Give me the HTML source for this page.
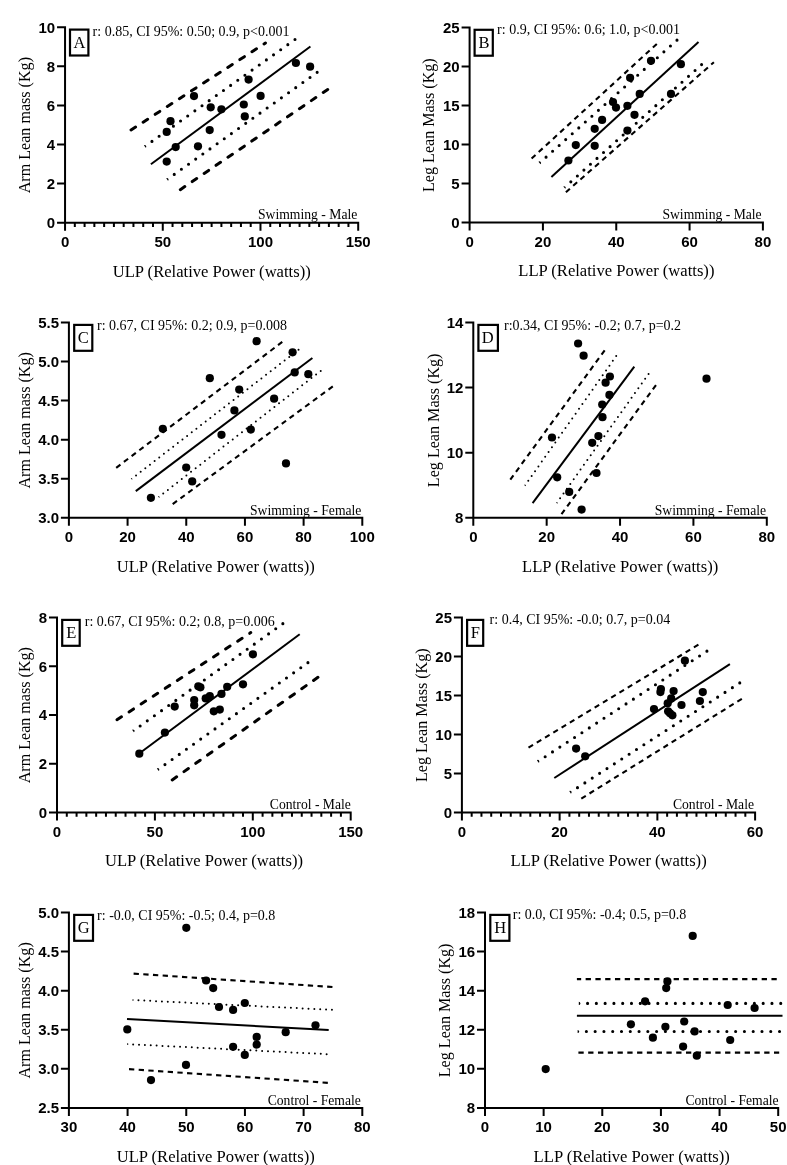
<!DOCTYPE html>
<html><head><meta charset="utf-8"><title>Figure</title>
<style>
html,body{margin:0;padding:0;background:#fff;}
body{width:787px;height:1165px;overflow:hidden;}
svg{display:block;will-change:transform;}
text{fill:#000;}
.ax{stroke:#000;stroke-width:2.0;fill:none;}
.bx{stroke:#000;stroke-width:2.2;fill:#fff;}
.tk{font-family:"Liberation Sans",sans-serif;font-weight:bold;font-size:15px;}
.lt{font-family:"Liberation Serif",serif;font-size:16.5px;}
.rt{font-family:"Liberation Serif",serif;font-size:14px;}
.gp{font-family:"Liberation Serif",serif;font-size:13.65px;}
.xl{font-family:"Liberation Serif",serif;font-size:16.6px;}
.yl{font-family:"Liberation Serif",serif;font-size:16.1px;}
</style></head>
<body>
<svg width="787" height="1165" viewBox="0 0 787 1165">
<rect width="787" height="1165" fill="#fff"/>
<g id="pA">
<path class="ax" d="M65.05 26.2V230.7M57.05 222.7H359.2M57.05 183.6H65.05M57.05 144.5H65.05M57.05 105.4H65.05M57.05 66.3H65.05M57.05 27.2H65.05M74.82 222.7V227M84.59 222.7V227M94.36 222.7V227M104.14 222.7V227M113.91 222.7V227M123.68 222.7V227M133.45 222.7V227M143.22 222.7V227M152.99 222.7V227M162.77 222.7V230.7M172.54 222.7V227M182.31 222.7V227M192.08 222.7V227M201.85 222.7V227M211.62 222.7V227M221.4 222.7V227M231.17 222.7V227M240.94 222.7V227M250.71 222.7V227M260.48 222.7V230.7M270.25 222.7V227M280.03 222.7V227M289.8 222.7V227M299.57 222.7V227M309.34 222.7V227M319.11 222.7V227M328.88 222.7V227M338.66 222.7V227M348.43 222.7V227M358.2 222.7V230.7"/>
<text class="tk" text-anchor="end" x="55.15" y="228.1">0</text>
<text class="tk" text-anchor="end" x="55.15" y="189">2</text>
<text class="tk" text-anchor="end" x="55.15" y="149.9">4</text>
<text class="tk" text-anchor="end" x="55.15" y="110.8">6</text>
<text class="tk" text-anchor="end" x="55.15" y="71.7">8</text>
<text class="tk" text-anchor="end" x="55.15" y="32.6">10</text>
<text class="tk" text-anchor="middle" x="65.05" y="247.25">0</text>
<text class="tk" text-anchor="middle" x="162.77" y="247.25">50</text>
<text class="tk" text-anchor="middle" x="260.48" y="247.25">100</text>
<text class="tk" text-anchor="middle" x="358.2" y="247.25">150</text>
<rect class="bx" x="70" y="29.6" width="18.4" height="25.9"/>
<text class="lt" text-anchor="middle" x="79.4" y="48.1">A</text>
<text class="rt" x="92.6" y="35.7">r: 0.85, CI 95%: 0.50; 0.9, p&lt;0.001</text>
<text class="gp" text-anchor="end" x="357.3" y="219.4">Swimming - Male</text>
<text class="xl" text-anchor="middle" x="211.72" y="276.6">ULP (Relative Power (watts))</text>
<text class="yl" text-anchor="middle" transform="translate(29.8 125.15) rotate(-90)">Arm Lean mass (Kg)</text>
<path d="M150.9 164.3L310.4 46.5" stroke="#000" stroke-width="2.0" fill="none"/>
<path d="M131.04 129.96L265.5 43" stroke="#000" stroke-width="3.0" stroke-dasharray="5.4 9.0" stroke-linecap="round" fill="none"/>
<path d="M180.33 189.64L328.6 88.9" stroke="#000" stroke-width="3.0" stroke-dasharray="5.4 9.0" stroke-linecap="round" fill="none"/>
<path d="M151.95 141.41L295.03 39.52" stroke="#000" stroke-width="3.1" stroke-dasharray="0 8.78" stroke-linecap="round" fill="none"/>
<path d="M145.7 147.76A1.55 1.55 0 0 0 143.9 145.24Z" fill="#000"/>
<path d="M174.25 174.4L317.19 72.32" stroke="#000" stroke-width="3.1" stroke-dasharray="0 8.78" stroke-linecap="round" fill="none"/>
<path d="M168 180.76A1.55 1.55 0 0 0 166.2 178.24Z" fill="#000"/>
<circle cx="166.7" cy="161.6" r="4.1"/><circle cx="175.7" cy="147.1" r="4.1"/><circle cx="166.7" cy="131.9" r="4.1"/><circle cx="170.5" cy="121.2" r="4.1"/><circle cx="198" cy="146.3" r="4.1"/><circle cx="209.7" cy="130.1" r="4.1"/><circle cx="194" cy="96.1" r="4.1"/><circle cx="210.7" cy="107.3" r="4.1"/><circle cx="221.4" cy="109.3" r="4.1"/><circle cx="243.8" cy="104.5" r="4.1"/><circle cx="244.8" cy="116.4" r="4.1"/><circle cx="248.6" cy="79.6" r="4.1"/><circle cx="260.6" cy="95.9" r="4.1"/><circle cx="295.9" cy="63" r="4.1"/><circle cx="310.1" cy="66.7" r="4.1"/>
</g>
<g id="pB">
<path class="ax" d="M469.6 26.4V230.5M461.6 222.5H763.9M461.6 183.48H469.6M461.6 144.46H469.6M461.6 105.44H469.6M461.6 66.42H469.6M461.6 27.4H469.6M542.92 222.5V230.5M616.25 222.5V230.5M689.58 222.5V230.5M762.9 222.5V230.5"/>
<text class="tk" text-anchor="end" x="459.7" y="227.9">0</text>
<text class="tk" text-anchor="end" x="459.7" y="188.88">5</text>
<text class="tk" text-anchor="end" x="459.7" y="149.86">10</text>
<text class="tk" text-anchor="end" x="459.7" y="110.84">15</text>
<text class="tk" text-anchor="end" x="459.7" y="71.82">20</text>
<text class="tk" text-anchor="end" x="459.7" y="32.8">25</text>
<text class="tk" text-anchor="middle" x="469.6" y="247.05">0</text>
<text class="tk" text-anchor="middle" x="542.92" y="247.05">20</text>
<text class="tk" text-anchor="middle" x="616.25" y="247.05">40</text>
<text class="tk" text-anchor="middle" x="689.58" y="247.05">60</text>
<text class="tk" text-anchor="middle" x="762.9" y="247.05">80</text>
<rect class="bx" x="474.6" y="29.8" width="18.2" height="25.9"/>
<text class="lt" text-anchor="middle" x="484" y="48.3">B</text>
<text class="rt" x="497.1" y="34.1">r: 0.9, CI 95%: 0.6; 1.0, p&lt;0.001</text>
<text class="gp" text-anchor="end" x="761.7" y="219.2">Swimming - Male</text>
<text class="xl" text-anchor="middle" x="616.35" y="276.4">LLP (Relative Power (watts))</text>
<text class="yl" text-anchor="middle" transform="translate(434.2 125.15) rotate(-90)">Leg Lean Mass (Kg)</text>
<path d="M551.4 177L698.5 42.1" stroke="#000" stroke-width="2.0" fill="none"/>
<path d="M531.6 158.5L657.3 43.5" stroke="#000" stroke-width="2.1" stroke-dasharray="5.3 4.37" fill="none"/>
<path d="M565.9 192.2L713.9 62.2" stroke="#000" stroke-width="2.1" stroke-dasharray="5.3 4.37" fill="none"/>
<path d="M546.05 157.15L677.02 40.11" stroke="#000" stroke-width="3.1" stroke-dasharray="0 8.78" stroke-linecap="round" fill="none"/>
<path d="M540.53 164.16A1.55 1.55 0 0 0 538.47 161.84Z" fill="#000"/>
<path d="M570.84 181.84L701.62 64.59" stroke="#000" stroke-width="3.1" stroke-dasharray="0 8.78" stroke-linecap="round" fill="none"/>
<path d="M565.33 188.85A1.55 1.55 0 0 0 563.27 186.55Z" fill="#000"/>
<circle cx="568.4" cy="160.5" r="4.1"/><circle cx="575.8" cy="145.1" r="4.1"/><circle cx="594.7" cy="145.8" r="4.1"/><circle cx="594.7" cy="128.8" r="4.1"/><circle cx="602.1" cy="119.9" r="4.1"/><circle cx="613" cy="102" r="4.1"/><circle cx="616" cy="107.6" r="4.1"/><circle cx="627.4" cy="105.8" r="4.1"/><circle cx="630.1" cy="77.8" r="4.1"/><circle cx="627.4" cy="130.6" r="4.1"/><circle cx="634.5" cy="114.8" r="4.1"/><circle cx="639.7" cy="93.9" r="4.1"/><circle cx="651" cy="60.8" r="4.1"/><circle cx="671" cy="93.9" r="4.1"/><circle cx="680.9" cy="64.2" r="4.1"/>
</g>
<g id="pC">
<path class="ax" d="M68.9 321.5V525.8M60.9 517.8H363.3M60.9 478.74H68.9M60.9 439.68H68.9M60.9 400.62H68.9M60.9 361.56H68.9M60.9 322.5H68.9M127.58 517.8V525.8M186.26 517.8V525.8M244.94 517.8V525.8M303.62 517.8V525.8M362.3 517.8V525.8"/>
<text class="tk" text-anchor="end" x="59" y="523.2">3.0</text>
<text class="tk" text-anchor="end" x="59" y="484.14">3.5</text>
<text class="tk" text-anchor="end" x="59" y="445.08">4.0</text>
<text class="tk" text-anchor="end" x="59" y="406.02">4.5</text>
<text class="tk" text-anchor="end" x="59" y="366.96">5.0</text>
<text class="tk" text-anchor="end" x="59" y="327.9">5.5</text>
<text class="tk" text-anchor="middle" x="68.9" y="542.35">0</text>
<text class="tk" text-anchor="middle" x="127.58" y="542.35">20</text>
<text class="tk" text-anchor="middle" x="186.26" y="542.35">40</text>
<text class="tk" text-anchor="middle" x="244.94" y="542.35">60</text>
<text class="tk" text-anchor="middle" x="303.62" y="542.35">80</text>
<text class="tk" text-anchor="middle" x="362.3" y="542.35">100</text>
<rect class="bx" x="74.2" y="324.9" width="18.1" height="25.9"/>
<text class="lt" text-anchor="middle" x="83.3" y="343.4">C</text>
<text class="rt" x="97.05" y="329.8">r: 0.67, CI 95%: 0.2; 0.9, p=0.008</text>
<text class="gp" text-anchor="end" x="361.4" y="514.5">Swimming - Female</text>
<text class="xl" text-anchor="middle" x="215.7" y="571.7">ULP (Relative Power (watts))</text>
<text class="yl" text-anchor="middle" transform="translate(29.8 420.35) rotate(-90)">Arm Lean mass (Kg)</text>
<path d="M135.8 491.1L312.4 358" stroke="#000" stroke-width="2.0" fill="none"/>
<path d="M116.2 467.8L284.8 340" stroke="#000" stroke-width="2.1" stroke-dasharray="5.3 4.37" fill="none"/>
<path d="M172.7 504.1L333.6 385.8" stroke="#000" stroke-width="2.1" stroke-dasharray="5.3 4.37" fill="none"/>
<path d="M136.04 475.41L298.58 349.66" stroke="#000" stroke-width="2.0" stroke-dasharray="0 5.87" stroke-linecap="round" fill="none"/>
<path d="M132.01 479.79A1.0 1.0 0 0 0 130.79 478.21Z" fill="#000"/>
<path d="M163.23 493.49L320.76 370.87" stroke="#000" stroke-width="2.0" stroke-dasharray="0 5.87" stroke-linecap="round" fill="none"/>
<path d="M159.21 497.89A1.0 1.0 0 0 0 157.99 496.31Z" fill="#000"/>
<circle cx="150.9" cy="497.8" r="4.1"/><circle cx="162.8" cy="428.8" r="4.1"/><circle cx="186.2" cy="467.5" r="4.1"/><circle cx="192.2" cy="481.4" r="4.1"/><circle cx="209.8" cy="378.2" r="4.1"/><circle cx="221.5" cy="434.8" r="4.1"/><circle cx="234.4" cy="410.4" r="4.1"/><circle cx="239.2" cy="389.6" r="4.1"/><circle cx="250.8" cy="429.6" r="4.1"/><circle cx="256.6" cy="341.2" r="4.1"/><circle cx="274.1" cy="398.7" r="4.1"/><circle cx="286" cy="463.4" r="4.1"/><circle cx="292.6" cy="352.3" r="4.1"/><circle cx="294.7" cy="372.4" r="4.1"/><circle cx="308.3" cy="374.2" r="4.1"/>
</g>
<g id="pD">
<path class="ax" d="M473.3 321.5V525.8M465.3 517.8H767.8M465.3 452.7H473.3M465.3 387.6H473.3M465.3 322.5H473.3M546.67 517.8V525.8M620.05 517.8V525.8M693.42 517.8V525.8M766.8 517.8V525.8"/>
<text class="tk" text-anchor="end" x="463.4" y="523.2">8</text>
<text class="tk" text-anchor="end" x="463.4" y="458.1">10</text>
<text class="tk" text-anchor="end" x="463.4" y="393">12</text>
<text class="tk" text-anchor="end" x="463.4" y="327.9">14</text>
<text class="tk" text-anchor="middle" x="473.3" y="542.35">0</text>
<text class="tk" text-anchor="middle" x="546.67" y="542.35">20</text>
<text class="tk" text-anchor="middle" x="620.05" y="542.35">40</text>
<text class="tk" text-anchor="middle" x="693.42" y="542.35">60</text>
<text class="tk" text-anchor="middle" x="766.8" y="542.35">80</text>
<rect class="bx" x="478.4" y="324.9" width="19.5" height="25.9"/>
<text class="lt" text-anchor="middle" x="487.8" y="343.4">D</text>
<text class="rt" x="504" y="330.4">r:0.34, CI 95%: -0.2; 0.7, p=0.2</text>
<text class="gp" text-anchor="end" x="766.1" y="514.5">Swimming - Female</text>
<text class="xl" text-anchor="middle" x="620.15" y="571.7">LLP (Relative Power (watts))</text>
<text class="yl" text-anchor="middle" transform="translate(438.5 420.35) rotate(-90)">Leg Lean Mass (Kg)</text>
<path d="M532.6 503.1L634.3 366.7" stroke="#000" stroke-width="2.0" fill="none"/>
<path d="M510.3 479.6L605.6 349.1" stroke="#000" stroke-width="2.1" stroke-dasharray="5.3 4.37" fill="none"/>
<path d="M561.5 514.2L656.3 384.6" stroke="#000" stroke-width="2.1" stroke-dasharray="5.3 4.37" fill="none"/>
<path d="M528.28 480.8L616.23 356.01" stroke="#000" stroke-width="2.0" stroke-dasharray="0 5.87" stroke-linecap="round" fill="none"/>
<path d="M525.72 486.18A1.0 1.0 0 0 0 524.08 485.02Z" fill="#000"/>
<path d="M560.1 498.32L648.59 373.91" stroke="#000" stroke-width="2.0" stroke-dasharray="0 5.87" stroke-linecap="round" fill="none"/>
<path d="M557.51 503.68A1.0 1.0 0 0 0 555.89 502.52Z" fill="#000"/>
<circle cx="578.1" cy="343.5" r="4.1"/><circle cx="583.6" cy="355.7" r="4.1"/><circle cx="609.9" cy="376.5" r="4.1"/><circle cx="605.6" cy="382.7" r="4.1"/><circle cx="609.4" cy="394.9" r="4.1"/><circle cx="602.2" cy="404.5" r="4.1"/><circle cx="602.5" cy="417.2" r="4.1"/><circle cx="598.4" cy="436.1" r="4.1"/><circle cx="592.2" cy="442.8" r="4.1"/><circle cx="552" cy="437.5" r="4.1"/><circle cx="596.5" cy="473" r="4.1"/><circle cx="557.2" cy="477.3" r="4.1"/><circle cx="569.2" cy="491.9" r="4.1"/><circle cx="581.6" cy="509.6" r="4.1"/><circle cx="706.5" cy="378.7" r="4.1"/>
</g>
<g id="pE">
<path class="ax" d="M57 616.5V820.5M49 812.5H351.7M49 763.75H57M49 715H57M49 666.25H57M49 617.5H57M66.79 812.5V816.8M76.58 812.5V816.8M86.37 812.5V816.8M96.16 812.5V816.8M105.95 812.5V816.8M115.74 812.5V816.8M125.53 812.5V816.8M135.32 812.5V816.8M145.11 812.5V816.8M154.9 812.5V820.5M164.69 812.5V816.8M174.48 812.5V816.8M184.27 812.5V816.8M194.06 812.5V816.8M203.85 812.5V816.8M213.64 812.5V816.8M223.43 812.5V816.8M233.22 812.5V816.8M243.01 812.5V816.8M252.8 812.5V820.5M262.59 812.5V816.8M272.38 812.5V816.8M282.17 812.5V816.8M291.96 812.5V816.8M301.75 812.5V816.8M311.54 812.5V816.8M321.33 812.5V816.8M331.12 812.5V816.8M340.91 812.5V816.8M350.7 812.5V820.5"/>
<text class="tk" text-anchor="end" x="47.1" y="817.9">0</text>
<text class="tk" text-anchor="end" x="47.1" y="769.15">2</text>
<text class="tk" text-anchor="end" x="47.1" y="720.4">4</text>
<text class="tk" text-anchor="end" x="47.1" y="671.65">6</text>
<text class="tk" text-anchor="end" x="47.1" y="622.9">8</text>
<text class="tk" text-anchor="middle" x="57" y="837.05">0</text>
<text class="tk" text-anchor="middle" x="154.9" y="837.05">50</text>
<text class="tk" text-anchor="middle" x="252.8" y="837.05">100</text>
<text class="tk" text-anchor="middle" x="350.7" y="837.05">150</text>
<rect class="bx" x="62.2" y="619.9" width="17.5" height="25.9"/>
<text class="lt" text-anchor="middle" x="71.3" y="638.4">E</text>
<text class="rt" x="84.8" y="625.5">r: 0.67, CI 95%: 0.2; 0.8, p=0.006</text>
<text class="gp" text-anchor="end" x="350.9" y="809.2">Control - Male</text>
<text class="xl" text-anchor="middle" x="203.95" y="866.4">ULP (Relative Power (watts))</text>
<text class="yl" text-anchor="middle" transform="translate(29.8 715.2) rotate(-90)">Arm Lean mass (Kg)</text>
<path d="M137.2 755L299.7 634.3" stroke="#000" stroke-width="2.0" fill="none"/>
<path d="M116.04 720.35L250.8 632.6" stroke="#000" stroke-width="3.0" stroke-dasharray="5.4 9.0" stroke-dashoffset="-1.1" stroke-linecap="round" fill="none"/>
<path d="M172.22 779.92L319 676.6" stroke="#000" stroke-width="3.0" stroke-dasharray="5.4 9.0" stroke-linecap="round" fill="none"/>
<path d="M140.14 725.98L282.89 623.64" stroke="#000" stroke-width="3.1" stroke-dasharray="0 8.78" stroke-linecap="round" fill="none"/>
<path d="M133.9 732.36A1.55 1.55 0 0 0 132.1 729.84Z" fill="#000"/>
<path d="M164.95 764.6L307.97 662.63" stroke="#000" stroke-width="3.1" stroke-dasharray="0 8.78" stroke-linecap="round" fill="none"/>
<path d="M158.7 770.96A1.55 1.55 0 0 0 156.9 768.44Z" fill="#000"/>
<circle cx="139.3" cy="753.7" r="4.1"/><circle cx="164.9" cy="732.6" r="4.1"/><circle cx="174.7" cy="706.6" r="4.1"/><circle cx="194.2" cy="700" r="4.1"/><circle cx="194.2" cy="705.3" r="4.1"/><circle cx="198.3" cy="686.3" r="4.1"/><circle cx="200.4" cy="687.3" r="4.1"/><circle cx="205.7" cy="698.4" r="4.1"/><circle cx="209.8" cy="696.2" r="4.1"/><circle cx="213.8" cy="711.3" r="4.1"/><circle cx="219.8" cy="709.6" r="4.1"/><circle cx="221.5" cy="693.9" r="4.1"/><circle cx="227.2" cy="686.8" r="4.1"/><circle cx="243" cy="684.3" r="4.1"/><circle cx="252.9" cy="654.3" r="4.1"/>
</g>
<g id="pF">
<path class="ax" d="M461.9 616.5V820.5M453.9 812.5H756.1M453.9 773.5H461.9M453.9 734.5H461.9M453.9 695.5H461.9M453.9 656.5H461.9M453.9 617.5H461.9M471.67 812.5V816.8M481.45 812.5V816.8M491.22 812.5V816.8M500.99 812.5V816.8M510.77 812.5V816.8M520.54 812.5V816.8M530.31 812.5V816.8M540.09 812.5V816.8M549.86 812.5V816.8M559.63 812.5V820.5M569.41 812.5V816.8M579.18 812.5V816.8M588.95 812.5V816.8M598.73 812.5V816.8M608.5 812.5V816.8M618.27 812.5V816.8M628.05 812.5V816.8M637.82 812.5V816.8M647.59 812.5V816.8M657.37 812.5V820.5M667.14 812.5V816.8M676.91 812.5V816.8M686.69 812.5V816.8M696.46 812.5V816.8M706.23 812.5V816.8M716.01 812.5V816.8M725.78 812.5V816.8M735.55 812.5V816.8M745.33 812.5V816.8M755.1 812.5V820.5"/>
<text class="tk" text-anchor="end" x="452" y="817.9">0</text>
<text class="tk" text-anchor="end" x="452" y="778.9">5</text>
<text class="tk" text-anchor="end" x="452" y="739.9">10</text>
<text class="tk" text-anchor="end" x="452" y="700.9">15</text>
<text class="tk" text-anchor="end" x="452" y="661.9">20</text>
<text class="tk" text-anchor="end" x="452" y="622.9">25</text>
<text class="tk" text-anchor="middle" x="461.9" y="837.05">0</text>
<text class="tk" text-anchor="middle" x="559.63" y="837.05">20</text>
<text class="tk" text-anchor="middle" x="657.37" y="837.05">40</text>
<text class="tk" text-anchor="middle" x="755.1" y="837.05">60</text>
<rect class="bx" x="467.1" y="619.9" width="16.1" height="25.9"/>
<text class="lt" text-anchor="middle" x="475.4" y="638.4">F</text>
<text class="rt" x="489.6" y="623.9">r: 0.4, CI 95%: -0.0; 0.7, p=0.04</text>
<text class="gp" text-anchor="end" x="754" y="809.2">Control - Male</text>
<text class="xl" text-anchor="middle" x="608.6" y="866.4">LLP (Relative Power (watts))</text>
<text class="yl" text-anchor="middle" transform="translate(426.6 715.2) rotate(-90)">Leg Lean Mass (Kg)</text>
<path d="M554.3 778L729.9 664.1" stroke="#000" stroke-width="2.0" fill="none"/>
<path d="M528.5 747.7L701 643.15" stroke="#000" stroke-width="2.1" stroke-dasharray="5.3 4.37" fill="none"/>
<path d="M581.3 798.6L744.2 697.35" stroke="#000" stroke-width="2.1" stroke-dasharray="5.3 4.37" fill="none"/>
<path d="M545.15 756.7L706.96 651.12" stroke="#000" stroke-width="3.1" stroke-dasharray="0 8.78" stroke-linecap="round" fill="none"/>
<path d="M538.65 762.8A1.55 1.55 0 0 0 536.95 760.2Z" fill="#000"/>
<path d="M577.48 787.64L739.81 682.85" stroke="#000" stroke-width="3.1" stroke-dasharray="0 8.78" stroke-linecap="round" fill="none"/>
<path d="M570.94 793.7A1.55 1.55 0 0 0 569.26 791.1Z" fill="#000"/>
<circle cx="576.1" cy="748.6" r="4.1"/><circle cx="585.2" cy="756.3" r="4.1"/><circle cx="684.9" cy="660.7" r="4.1"/><circle cx="660.9" cy="689" r="4.1"/><circle cx="660.4" cy="692.1" r="4.1"/><circle cx="673.6" cy="691.1" r="4.1"/><circle cx="671.2" cy="698.4" r="4.1"/><circle cx="667.7" cy="703.3" r="4.1"/><circle cx="654" cy="709.1" r="4.1"/><circle cx="668.1" cy="711.3" r="4.1"/><circle cx="672.4" cy="715.3" r="4.1"/><circle cx="670" cy="713.3" r="4.1"/><circle cx="681.5" cy="705" r="4.1"/><circle cx="702.8" cy="692.1" r="4.1"/><circle cx="699.9" cy="701" r="4.1"/>
</g>
<g id="pG">
<path class="ax" d="M68.9 911.5V1115.9M60.9 1107.9H363.3M60.9 1068.82H68.9M60.9 1029.74H68.9M60.9 990.66H68.9M60.9 951.58H68.9M60.9 912.5H68.9M127.58 1107.9V1115.9M186.26 1107.9V1115.9M244.94 1107.9V1115.9M303.62 1107.9V1115.9M362.3 1107.9V1115.9"/>
<text class="tk" text-anchor="end" x="59" y="1113.3">2.5</text>
<text class="tk" text-anchor="end" x="59" y="1074.22">3.0</text>
<text class="tk" text-anchor="end" x="59" y="1035.14">3.5</text>
<text class="tk" text-anchor="end" x="59" y="996.06">4.0</text>
<text class="tk" text-anchor="end" x="59" y="956.98">4.5</text>
<text class="tk" text-anchor="end" x="59" y="917.9">5.0</text>
<text class="tk" text-anchor="middle" x="68.9" y="1132.45">30</text>
<text class="tk" text-anchor="middle" x="127.58" y="1132.45">40</text>
<text class="tk" text-anchor="middle" x="186.26" y="1132.45">50</text>
<text class="tk" text-anchor="middle" x="244.94" y="1132.45">60</text>
<text class="tk" text-anchor="middle" x="303.62" y="1132.45">70</text>
<text class="tk" text-anchor="middle" x="362.3" y="1132.45">80</text>
<rect class="bx" x="74.2" y="914.9" width="18.8" height="25.9"/>
<text class="lt" text-anchor="middle" x="83.7" y="933.4">G</text>
<text class="rt" x="97.1" y="919.7">r: -0.0, CI 95%: -0.5; 0.4, p=0.8</text>
<text class="gp" text-anchor="end" x="360.9" y="1104.6">Control - Female</text>
<text class="xl" text-anchor="middle" x="215.7" y="1161.8">ULP (Relative Power (watts))</text>
<text class="yl" text-anchor="middle" transform="translate(29.8 1010.4) rotate(-90)">Arm Lean mass (Kg)</text>
<path d="M127 1019L328.7 1030.1" stroke="#000" stroke-width="2.0" fill="none"/>
<path d="M133.6 973.6L336 987.25" stroke="#000" stroke-width="2.1" stroke-dasharray="5.3 4.4" fill="none"/>
<path d="M129 1069.1L331 1083.05" stroke="#000" stroke-width="2.1" stroke-dasharray="5.3 4.4" fill="none"/>
<path d="M138.46 1000.29L331.99 1009.86" stroke="#000" stroke-width="2.0" stroke-dasharray="0 5.87" stroke-linecap="round" fill="none"/>
<path d="M132.55 1001A1.0 1.0 0 0 0 132.65 999Z" fill="#000"/>
<path d="M133.16 1044.4L326.68 1054.15" stroke="#000" stroke-width="2.0" stroke-dasharray="0 5.87" stroke-linecap="round" fill="none"/>
<path d="M127.25 1045.1A1.0 1.0 0 0 0 127.35 1043.1Z" fill="#000"/>
<circle cx="186.3" cy="927.8" r="4.1"/><circle cx="206.1" cy="980.5" r="4.1"/><circle cx="213.2" cy="988.1" r="4.1"/><circle cx="219" cy="1007" r="4.1"/><circle cx="233.1" cy="1009.9" r="4.1"/><circle cx="244.8" cy="1003" r="4.1"/><circle cx="127.3" cy="1029.4" r="4.1"/><circle cx="233.1" cy="1046.8" r="4.1"/><circle cx="186" cy="1064.9" r="4.1"/><circle cx="151" cy="1080.1" r="4.1"/><circle cx="256.7" cy="1036.9" r="4.1"/><circle cx="256.7" cy="1044.6" r="4.1"/><circle cx="244.8" cy="1054.9" r="4.1"/><circle cx="285.7" cy="1032.2" r="4.1"/><circle cx="315.5" cy="1025.3" r="4.1"/>
</g>
<g id="pH">
<path class="ax" d="M485 911.5V1115.9M477 1107.9H779.2M477 1068.82H485M477 1029.74H485M477 990.66H485M477 951.58H485M477 912.5H485M543.64 1107.9V1115.9M602.28 1107.9V1115.9M660.92 1107.9V1115.9M719.56 1107.9V1115.9M778.2 1107.9V1115.9"/>
<text class="tk" text-anchor="end" x="475.1" y="1113.3">8</text>
<text class="tk" text-anchor="end" x="475.1" y="1074.22">10</text>
<text class="tk" text-anchor="end" x="475.1" y="1035.14">12</text>
<text class="tk" text-anchor="end" x="475.1" y="996.06">14</text>
<text class="tk" text-anchor="end" x="475.1" y="956.98">16</text>
<text class="tk" text-anchor="end" x="475.1" y="917.9">18</text>
<text class="tk" text-anchor="middle" x="485" y="1132.45">0</text>
<text class="tk" text-anchor="middle" x="543.64" y="1132.45">10</text>
<text class="tk" text-anchor="middle" x="602.28" y="1132.45">20</text>
<text class="tk" text-anchor="middle" x="660.92" y="1132.45">30</text>
<text class="tk" text-anchor="middle" x="719.56" y="1132.45">40</text>
<text class="tk" text-anchor="middle" x="778.2" y="1132.45">50</text>
<rect class="bx" x="490.3" y="914.9" width="19.1" height="25.9"/>
<text class="lt" text-anchor="middle" x="500.2" y="933.4">H</text>
<text class="rt" x="512.8" y="918.8">r: 0.0, CI 95%: -0.4; 0.5, p=0.8</text>
<text class="gp" text-anchor="end" x="778.6" y="1104.6">Control - Female</text>
<text class="xl" text-anchor="middle" x="631.7" y="1161.8">LLP (Relative Power (watts))</text>
<text class="yl" text-anchor="middle" transform="translate(450.2 1010.4) rotate(-90)">Leg Lean Mass (Kg)</text>
<path d="M576.9 1015.7L782.5 1015.7" stroke="#000" stroke-width="2.0" fill="none"/>
<path d="M576.9 979.15L777.2 979.15" stroke="#000" stroke-width="2.1" stroke-dasharray="5.3 4.48" stroke-dashoffset="1.05" fill="none"/>
<path d="M578.4 1052.6L779.2 1052.6" stroke="#000" stroke-width="2.1" stroke-dasharray="5.3 4.48" fill="none"/>
<path d="M587.58 1003.4L780.79 1003.4" stroke="#000" stroke-width="3.1" stroke-dasharray="0 8.78" stroke-linecap="round" fill="none"/>
<path d="M578.8 1004.95A1.55 1.55 0 0 0 578.8 1001.85Z" fill="#000"/>
<path d="M586.38 1031.5L779.59 1031.5" stroke="#000" stroke-width="3.1" stroke-dasharray="0 8.78" stroke-linecap="round" fill="none"/>
<path d="M577.6 1033.05A1.55 1.55 0 0 0 577.6 1029.95Z" fill="#000"/>
<circle cx="545.7" cy="1069.1" r="4.1"/><circle cx="645.1" cy="1001.3" r="4.1"/><circle cx="630.9" cy="1024.3" r="4.1"/><circle cx="652.9" cy="1037.7" r="4.1"/><circle cx="692.7" cy="935.9" r="4.1"/><circle cx="667.4" cy="981.4" r="4.1"/><circle cx="666.2" cy="988.1" r="4.1"/><circle cx="727.7" cy="1005" r="4.1"/><circle cx="754.6" cy="1008" r="4.1"/><circle cx="684.2" cy="1021.5" r="4.1"/><circle cx="665.4" cy="1026.8" r="4.1"/><circle cx="694.6" cy="1031.4" r="4.1"/><circle cx="730.2" cy="1040" r="4.1"/><circle cx="683.1" cy="1046.6" r="4.1"/><circle cx="696.8" cy="1055.7" r="4.1"/>
</g>
</svg>
</body></html>
